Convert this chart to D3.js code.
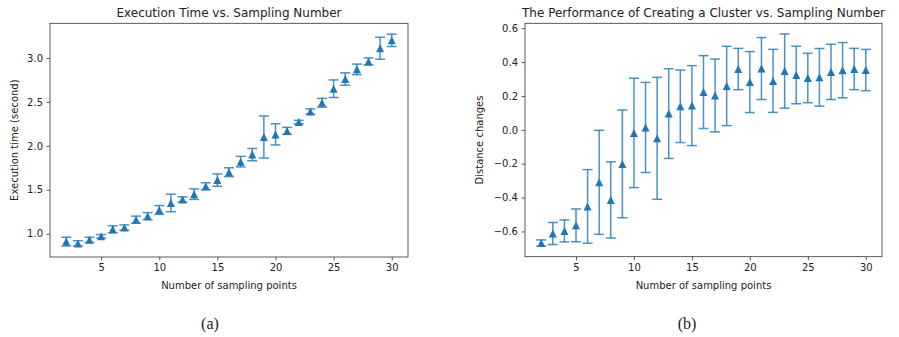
<!DOCTYPE html>
<meta charset="utf-8">
<style>
body { margin: 0; background: #fff; }
svg { display: block; }
.axis text { font: 10px "DejaVu Sans", sans-serif; fill: #222; }
.axis path, .axis line { stroke: #333; stroke-width: 0.8px; }
.title { font: 12px "DejaVu Sans", sans-serif; fill: #222; }
.label { font: 10px "DejaVu Sans", sans-serif; fill: #222; }
.caption { font: 16px "Liberation Serif", serif; fill: #222; }
</style>
<svg id="fig" width="899" height="337"></svg>
<script src="https://cdn.jsdelivr.net/npm/d3@7/dist/d3.min.js"></script>
<script>
// sampling points shared by both panels
var samples = d3.range(2, 31);

// (a) execution time, mean and half-width of the error bar
var timeMean = [0.91, 0.89, 0.93, 0.97, 1.05, 1.07, 1.16, 1.20, 1.27, 1.35,
                1.39, 1.45, 1.54, 1.61, 1.70, 1.82, 1.90, 2.10, 2.13, 2.17,
                2.27, 2.39, 2.49, 2.65, 2.76, 2.87, 2.96, 3.11, 3.20];
var timeErr  = [0.05, 0.03, 0.03, 0.02, 0.04, 0.03, 0.04, 0.04, 0.05, 0.10,
                0.03, 0.06, 0.04, 0.07, 0.05, 0.06, 0.07, 0.24, 0.12, 0.04,
                0.02, 0.03, 0.05, 0.10, 0.07, 0.06, 0.04, 0.125, 0.07];

// (b) distance changes
var distMean = [-0.668, -0.612, -0.597, -0.564, -0.452, -0.31, -0.414, -0.201, -0.018, 0.014,
                -0.05, 0.096, 0.139, 0.143, 0.223, 0.203, 0.259, 0.359, 0.282, 0.362,
                0.289, 0.347, 0.324, 0.306, 0.31, 0.342, 0.352, 0.359, 0.353];
var distErr  = [0.018, 0.065, 0.065, 0.097, 0.217, 0.307, 0.225, 0.318, 0.323, 0.266,
                0.36, 0.265, 0.214, 0.236, 0.215, 0.215, 0.234, 0.122, 0.18, 0.183,
                0.186, 0.219, 0.17, 0.146, 0.17, 0.163, 0.163, 0.122, 0.122];

var xTicks = [5, 10, 15, 20, 25, 30];
var timeTicks = [1.0, 1.5, 2.0, 2.5, 3.0];
var distTicks = [-0.6, -0.4, -0.2, 0.0, 0.2, 0.4, 0.6];

var blue = "#1f77b4";
var svg = d3.select("#fig");

function panel(opt) {
  var x = d3.scaleLinear().domain([0.6, 31.4]).range([opt.left, opt.right]);
  var y = d3.scaleLinear().domain(opt.yDomain).range([opt.bottom, opt.top]);
  var g = svg.append("g");

  g.append("g").attr("class", "axis")
      .attr("transform", "translate(0," + opt.bottom + ")")
      .call(d3.axisBottom(x).tickValues(xTicks).tickSize(3.5).tickPadding(3.5).tickFormat(d3.format("d")))
      .call(function(s) { s.select(".domain").remove(); });
  g.append("g").attr("class", "axis")
      .attr("transform", "translate(" + opt.left + ",0)")
      .call(d3.axisLeft(y).tickValues(opt.yTicks).tickSize(3.5).tickPadding(3.5)
        .tickFormat(function(d) { return d3.format(".1f")(d).replace("-", "\u2212"); }))
      .call(function(s) { s.select(".domain").remove(); });

  g.append("rect")
      .attr("x", opt.left).attr("y", opt.top)
      .attr("width", opt.right - opt.left).attr("height", opt.bottom - opt.top)
      .attr("fill", "none").attr("stroke", "#333").attr("stroke-width", 0.8);

  var pts = samples.map(function(s, i) { return {x: s, m: opt.mean[i], e: opt.err[i]}; });
  var bars = g.append("g").attr("stroke", blue).attr("stroke-opacity", 0.8).attr("stroke-width", 1.5);
  bars.selectAll("line.v").data(pts).enter().append("line")
      .attr("x1", function(d) { return x(d.x); }).attr("x2", function(d) { return x(d.x); })
      .attr("y1", function(d) { return y(d.m - d.e); }).attr("y2", function(d) { return y(d.m + d.e); });
  [-1, 1].forEach(function(sgn) {
    bars.selectAll("line.c" + sgn).data(pts).enter().append("line")
        .attr("x1", function(d) { return x(d.x) - 5; }).attr("x2", function(d) { return x(d.x) + 5; })
        .attr("y1", function(d) { return y(d.m + sgn * d.e); }).attr("y2", function(d) { return y(d.m + sgn * d.e); });
  });

  g.append("g").selectAll("path").data(pts).enter().append("path")
      .attr("d", "M0,-4L4,4L-4,4Z")
      .attr("fill", blue)
      .attr("transform", function(d) { return "translate(" + x(d.x) + "," + y(d.m) + ")"; });

  var cx = (opt.left + opt.right) / 2;
  g.append("text").attr("class", "title").attr("x", cx).attr("y", opt.top - 6)
      .attr("text-anchor", "middle").text(opt.title);
  g.append("text").attr("class", "label").attr("x", cx).attr("y", 289)
      .attr("text-anchor", "middle").text("Number of sampling points");
  g.append("text").attr("class", "label")
      .attr("transform", "translate(" + opt.ylabelX + "," + ((opt.top + opt.bottom) / 2) + ") rotate(-90)")
      .attr("text-anchor", "middle").text(opt.ylabel);
  g.append("text").attr("class", "caption").attr("x", opt.capX).attr("y", 329)
      .attr("text-anchor", "middle").text(opt.caption);
}

panel({
  left: 50, right: 408, top: 23.3, bottom: 257,
  yDomain: [0.735, 3.394], yTicks: timeTicks,
  mean: timeMean, err: timeErr,
  title: "Execution Time vs. Sampling Number",
  ylabel: "Execution time (second)", ylabelX: 18,
  caption: "(a)", capX: 210
});

panel({
  left: 525, right: 882, top: 23.3, bottom: 256.7,
  yDomain: [-0.749, 0.629], yTicks: distTicks,
  mean: distMean, err: distErr,
  title: "The Performance of Creating a Cluster vs. Sampling Number",
  ylabel: "Distance changes", ylabelX: 483,
  caption: "(b)", capX: 687
});
</script>
